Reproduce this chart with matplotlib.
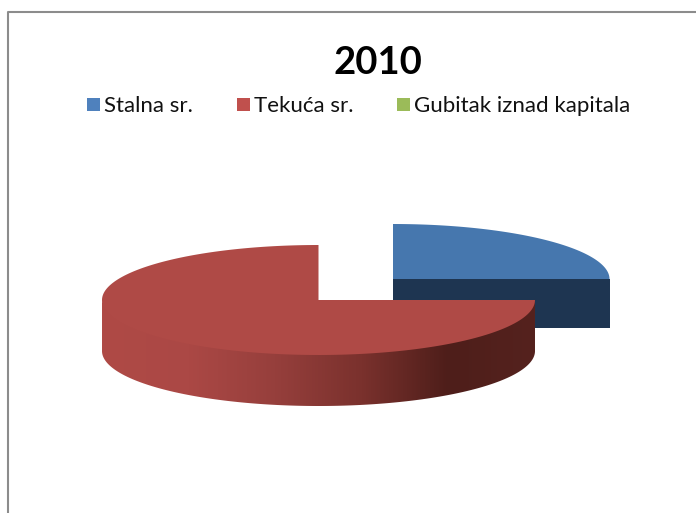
import numpy as np
import matplotlib
matplotlib.use("Agg")
import matplotlib.pyplot as plt
from matplotlib.patches import Polygon, Rectangle
from matplotlib.colors import LinearSegmentedColormap

title = "2010"
categories = ["Stalna sr.", "Tekuća sr.", "Gubitak iznad kapitala"]
values = [25, 75, 0]
colors = ["#4F81BD", "#C0504D", "#9BBB59"]
top_colors = ["#4677AE", "#AF4A46", "#9BBB59"]
blue_side = "#1E3551"
red_side_stops = ["#AF4A46", "#AB4845", "#963F3C", "#7A312D", "#4E1E1A", "#55221E"]
centers = [(393, 279), (318.5, 300)]
RX, RY, DEPTH = 216.5, 55, 51

plt.rcParams["font.family"] = ["Lato", "DejaVu Sans"]
fig = plt.figure(figsize=(6.96, 5.13), dpi=100)
ax = fig.add_axes([0, 0, 1, 1])
ax.set_xlim(0, 696); ax.set_ylim(513, 0); ax.axis("off")

ax.plot([7.5, 7.5, 696], [513, 11.5, 11.5], color="#8C8C8C", lw=1.5)


def rim(a0, a1):
    t = np.radians(np.linspace(a0, a1, 200))
    return RX * np.cos(t), -RY * np.sin(t)


start = 0.0
angles = []
for v in values:
    angles.append((start, start + v / sum(values) * 360))
    start += v / sum(values) * 360

# Blue slice, drawn first: the red one overlaps it
a0, a1 = angles[0]
cx, cy = centers[0]
x, y = rim(a0, a1)
ax.add_patch(Rectangle((cx, cy), RX, DEPTH - 2, fc=blue_side, ec="none", zorder=2))
ax.add_patch(Polygon(np.c_[np.r_[cx, cx + x], np.r_[cy, cy + y]], fc=top_colors[0], ec="none", zorder=3))

# Red slice: side wall of the lower half of the rim, then its top face
a0, a1 = angles[1]
cx, cy = centers[1]
x, y = rim(180, 360)
wall = np.r_[np.c_[cx + x, cy + y - 2], np.c_[cx + x[::-1], cy + y[::-1] + DEPTH]]
cmap = LinearSegmentedColormap.from_list("side", red_side_stops)
im = ax.imshow(np.linspace(0, 1, 256)[None, :], cmap=cmap, aspect="auto",
               extent=(cx - RX, cx + RX, cy + RY + DEPTH, cy - 5), zorder=4)
clip = Polygon(wall, transform=ax.transData, fc="none", ec="none")
ax.add_patch(clip)
im.set_clip_path(clip)
ax.set_xlim(0, 696); ax.set_ylim(513, 0)

x, y = rim(a0, a1)
ax.add_patch(Polygon(np.c_[np.r_[cx, cx + x], np.r_[cy, cy + y]], fc=top_colors[1], ec="none", zorder=5))

ax.text(378, 63, title, ha="center", va="center", fontsize=27.5, fontweight="bold", color="black")

legend_x = [87, 237, 397]
for xpos, name, col in zip(legend_x, categories, colors):
    ax.add_patch(Rectangle((xpos, 98), 13, 13, fc=col, ec="none"))
    ax.text(xpos + 17, 105.5, name, ha="left", va="center", fontsize=16, color="#111111")

fig.savefig("out.png", dpi=100)
